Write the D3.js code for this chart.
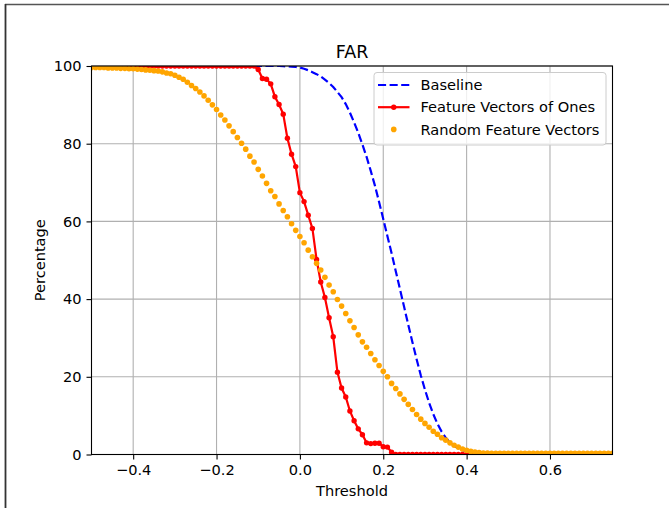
<!DOCTYPE html>
<html>
<head>
<meta charset="utf-8">
<script src="https://cdn.jsdelivr.net/npm/d3@7"></script>
<style>
  body { margin: 0; background: #fff; }
  svg { font-family: "DejaVu Sans", sans-serif; }
</style>
</head>
<body>
<svg id="chart" width="669" height="508"></svg>
<script>
// thresholds go from -0.5 to 0.75 in steps of 0.01
var thresholdStart = -0.5;
var thresholdStep = 0.01;

var baselineValues = [
  100,100,100,100,100,100,100,100,100,100,
  100,100,100,100,100,100,100,100,100,100,
  100,100,100,100,100,100,100,100,100,100,
  100,100,100,100,100,100,100,100,100,100,
  100,100,100,100,100,100,99.95,99.9,99.85,99.75,
  99.6,99.3,98.9,98.4,97.9,97.3,96.5,95.6,94.6,93.3,
  92.0,90.2,88.0,85.5,82.8,79.8,76.6,73.0,69.2,65.0,
  60.6,56.2,51.8,47.2,42.6,38.0,33.4,28.9,24.5,20.4,
  16.7,13.3,10.4,7.9,5.9,4.3,3.1,2.2,1.6,1.1,
  0.8,0.5,0.35,0.2,0.1,0.05,0,0,0,0,
  0,0,0,0,0,0,0,0,0,0,
  0,0,0,0,0,0,0,0,0,0,
  0,0,0,0,0,0
];

var onesValues = [
  100,100,100,100,100,100,100,100,100,100,
  100,100,100,100,100,100,100,100,100,100,
  100,100,100,100,100,100,100,100,100,100,
  100,100,100,100,100,100,100,100,100,100,
  99.1,96.8,96.6,95.4,92.1,90.1,87.6,81.4,77.3,74.1,
  67.4,65.1,61.6,58.2,50.2,44.4,40.4,35.2,30.3,21.2,
  17.1,14.8,11.2,8.7,6.6,5.1,3.0,2.8,2.9,2.9,
  2.0,1.9,0.6,0,0,0,0,0,0,0,
  0,0,0,0,0,0,0,0,0,0,
  0,0,0,0,0,0,0,0,0,0,
  0,0,0,0,0,0,0,0,0,0,
  0,0,0,0,0,0,0,0,0,0,
  0,0,0,0,0,0
];

var randomValues = [
  99.6,99.6,99.6,99.6,99.5,99.5,99.5,99.4,99.4,99.3,
  99.3,99.2,99.1,99.0,98.9,98.8,98.7,98.5,98.2,98.0,
  97.6,97.1,96.6,95.8,95.0,94.2,93.3,92.3,91.2,90.0,
  88.8,87.4,86.1,84.6,83.1,81.6,80.1,78.6,76.8,75.3,
  73.4,71.7,69.8,67.9,66.4,64.5,62.8,61.2,59.4,57.7,
  56.1,54.5,52.6,50.9,49.2,47.5,45.6,43.6,41.9,39.9,
  38.2,36.3,34.4,32.7,30.8,29.0,27.6,26.0,24.4,22.9,
  21.4,20.0,18.3,17.0,15.6,14.2,12.9,11.6,10.3,9.1,
  8.0,7.0,6.0,5.2,4.3,3.7,3.0,2.4,1.9,1.4,
  1.1,0.8,0.6,0.5,0.4,0.35,0.3,0.3,0.3,0.3,
  0.3,0.3,0.3,0.3,0.3,0.3,0.3,0.3,0.3,0.3,
  0.3,0.3,0.3,0.3,0.3,0.3,0.3,0.3,0.3,0.3,
  0.3,0.3,0.3,0.3,0.3,0.3
];

var xTicks = [-0.4, -0.2, 0.0, 0.2, 0.4, 0.6];
var yTicks = [0, 20, 40, 60, 80, 100];
var seriesNames = ["Baseline", "Feature Vectors of Ones", "Random Feature Vectors"];

var plotLeft = 91.5, plotRight = 612.5, plotTop = 66, plotBottom = 454.5;
var fontSize = 14.6;

var svg = d3.select("#chart");

// outer frame of the screenshot (top and left edges only)
svg.append("line").attr("x1", 5).attr("y1", 4.5).attr("x2", 669).attr("y2", 4.5)
  .attr("stroke", "#555").attr("stroke-width", 1.5);
svg.append("line").attr("x1", 5.5).attr("y1", 4).attr("x2", 5.5).attr("y2", 508)
  .attr("stroke", "#333").attr("stroke-width", 1.8);

var x = d3.scaleLinear().domain([-0.5, 0.75]).range([plotLeft, plotRight]);
var y = d3.scaleLinear().domain([0, 100]).range([plotBottom, plotTop]);

function toPoints(values) {
  return values.map(function(v, i) {
    return {t: thresholdStart + i * thresholdStep, v: v};
  });
}

// grid
var grid = svg.append("g");
grid.selectAll(".gx").data(xTicks).enter().append("line")
  .attr("x1", function(d){return x(d);}).attr("x2", function(d){return x(d);})
  .attr("y1", plotTop).attr("y2", plotBottom)
  .attr("stroke", "#b0b0b0").attr("stroke-width", 1.1);
grid.selectAll(".gy").data(yTicks).enter().append("line")
  .attr("x1", plotLeft).attr("x2", plotRight)
  .attr("y1", function(d){return y(d);}).attr("y2", function(d){return y(d);})
  .attr("stroke", "#b0b0b0").attr("stroke-width", 1.1);

svg.append("clipPath").attr("id", "plotClip").append("rect")
  .attr("x", plotLeft).attr("y", plotTop)
  .attr("width", plotRight - plotLeft).attr("height", plotBottom - plotTop);

var plot = svg.append("g").attr("clip-path", "url(#plotClip)");
var line = d3.line().x(function(d){return x(d.t);}).y(function(d){return y(d.v);});

plot.append("path").attr("d", line(toPoints(baselineValues)))
  .attr("fill", "none").attr("stroke", "#0000ff").attr("stroke-width", 2.2)
  .attr("stroke-dasharray", "8.1,3.5");

var ones = toPoints(onesValues);
plot.append("path").attr("d", line(ones))
  .attr("fill", "none").attr("stroke", "#ff0000").attr("stroke-width", 2.2);
plot.selectAll(".ones").data(ones).enter().append("circle")
  .attr("cx", function(d){return x(d.t);}).attr("cy", function(d){return y(d.v);})
  .attr("r", 2.7).attr("fill", "#ff0000");

plot.selectAll(".rand").data(toPoints(randomValues)).enter().append("circle")
  .attr("cx", function(d){return x(d.t);}).attr("cy", function(d){return y(d.v);})
  .attr("r", 2.8).attr("fill", "#ffa500");

// axes
var xAxis = d3.axisBottom(x).tickValues(xTicks).tickSize(5).tickPadding(5).tickFormat(d3.format(".1f"));
var yAxis = d3.axisLeft(y).tickValues(yTicks).tickSize(5).tickPadding(5);

var gx = svg.append("g").attr("transform", "translate(0," + plotBottom + ")").call(xAxis);
var gy = svg.append("g").attr("transform", "translate(" + plotLeft + ",0)").call(yAxis);
[gx, gy].forEach(function(g) {
  g.select(".domain").remove();
  g.selectAll("line").attr("stroke", "#000").attr("stroke-width", 1.1);
  g.selectAll("text").attr("font-size", fontSize).attr("fill", "#000")
    .attr("font-family", "DejaVu Sans");
});

// spines
svg.append("rect").attr("x", plotLeft).attr("y", plotTop)
  .attr("width", plotRight - plotLeft).attr("height", plotBottom - plotTop)
  .attr("fill", "none").attr("stroke", "#000").attr("stroke-width", 1.1);

// titles
svg.append("text").attr("x", (plotLeft + plotRight) / 2).attr("y", 58)
  .attr("text-anchor", "middle").attr("font-size", 17.5).text("FAR");
svg.append("text").attr("x", (plotLeft + plotRight) / 2).attr("y", 496)
  .attr("text-anchor", "middle").attr("font-size", fontSize).text("Threshold");
svg.append("text").attr("transform", "translate(45," + (plotTop + plotBottom) / 2 + ") rotate(-90)")
  .attr("text-anchor", "middle").attr("font-size", fontSize).text("Percentage");

// legend
var legend = svg.append("g").attr("transform", "translate(374,72.5)");
legend.append("rect").attr("width", 232).attr("height", 72.5).attr("rx", 3)
  .attr("fill", "#fff").attr("fill-opacity", 0.8)
  .attr("stroke", "#cccccc").attr("stroke-width", 1);
var rows = legend.selectAll(".row").data(seriesNames).enter().append("g")
  .attr("transform", function(d, i){return "translate(0," + (12.5 + i * 22.2) + ")";});
rows.append("text").attr("x", 46.5).attr("y", 5.2).attr("font-size", fontSize)
  .text(function(d){return d;});
rows.filter(function(d, i){return i === 0;}).append("line")
  .attr("x1", 4).attr("x2", 35.5).attr("stroke", "#0000ff").attr("stroke-width", 2.2)
  .attr("stroke-dasharray", "8.1,3.5");
rows.filter(function(d, i){return i === 1;}).append("line")
  .attr("x1", 4).attr("x2", 35.5).attr("stroke", "#ff0000").attr("stroke-width", 2.2);
rows.filter(function(d, i){return i === 1;}).append("circle")
  .attr("cx", 19.75).attr("r", 2.7).attr("fill", "#ff0000");
rows.filter(function(d, i){return i === 2;}).append("circle")
  .attr("cx", 19.75).attr("r", 2.8).attr("fill", "#ffa500");
</script>
</body>
</html>
